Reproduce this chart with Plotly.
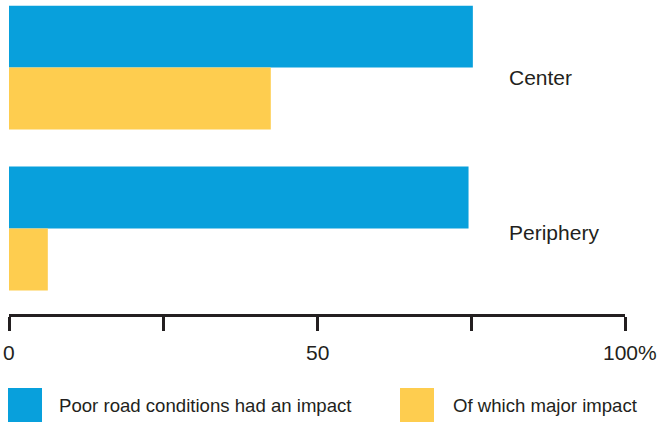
import plotly.graph_objects as go

# Share of respondents, by area
areas = ["Center", "Periphery"]
any_impact = [75.3, 74.6]
major_impact = [42.5, 6.3]

series_names = ["Poor road conditions had an impact", "Of which major impact"]
series_colors = ["#08a0dc", "#fecd4f"]

tick_vals = [0, 25, 50, 75, 100]
tick_text = ["0", "", "50", "", "100%"]

W, H = 665, 422
M_L, M_R, M_T, M_B = 9, 40, 0, 108
PW, PH = W - M_L - M_R, H - M_T - M_B

TEXT = "#231f20"
FONT = "Liberation Sans, Arial, sans-serif"

# vertical nudge of each area label relative to its bar group (px)
label_shift = [-10, -4]


def px_x(x):
    return (x - M_L) / PW


def px_y(y):
    return (H - M_B - y) / PH


fig = go.Figure()
for name, vals, col in zip(series_names, [any_impact, major_impact], series_colors):
    fig.add_trace(go.Bar(
        y=areas, x=vals, orientation="h", name=name,
        marker=dict(color=col, line=dict(width=0)),
        showlegend=False, hoverinfo="x+y",
    ))

annotations = []
# category labels to the right of the bars
for a, dy in zip(areas, label_shift):
    annotations.append(dict(
        x=px_x(507), xref="paper", y=a, yref="y", yshift=dy,
        text=a, showarrow=False, xanchor="left", yanchor="middle",
        font=dict(family=FONT, size=21, color=TEXT),
    ))
# axis tick labels
for v, t in zip(tick_vals, tick_text):
    if not t:
        continue
    last = v == tick_vals[-1]
    annotations.append(dict(
        x=v, xref="x", y=px_y(352), yref="paper", text=t, showarrow=False,
        xanchor="left" if last else "center", xshift=-24 if last else 0,
        yanchor="middle", font=dict(family=FONT, size=21, color=TEXT),
    ))

# legend: swatches + labels
shapes = []
legend_x = [(8, 57), (400, 451)]
for (bx, tx), name, col in zip(legend_x, series_names, series_colors):
    shapes.append(dict(
        type="rect", xref="paper", yref="paper",
        x0=px_x(bx), x1=px_x(bx + 34), y0=px_y(422), y1=px_y(388),
        fillcolor=col, line=dict(width=0), layer="above",
    ))
    annotations.append(dict(
        x=px_x(tx), xref="paper", y=px_y(405), yref="paper", text=name,
        showarrow=False, xanchor="left", yanchor="middle",
        font=dict(family=FONT, size=18.6, color=TEXT),
    ))

fig.update_layout(
    width=W, height=H,
    margin=dict(l=M_L, r=M_R, t=M_T, b=M_B, pad=0),
    paper_bgcolor="white", plot_bgcolor="white",
    barmode="group", bargap=0.23, bargroupgap=0,
    xaxis=dict(
        range=[0, 100], tickvals=tick_vals, showticklabels=False,
        showgrid=False, zeroline=False, showline=True,
        linewidth=3, linecolor=TEXT,
        ticks="outside", ticklen=14, tickwidth=2.5, tickcolor=TEXT,
        fixedrange=True,
    ),
    yaxis=dict(
        type="category", range=[1.531, -0.42], visible=False,
        fixedrange=True,
    ),
    annotations=annotations, shapes=shapes,
    showlegend=False,
)

fig.write_html("out.html")
